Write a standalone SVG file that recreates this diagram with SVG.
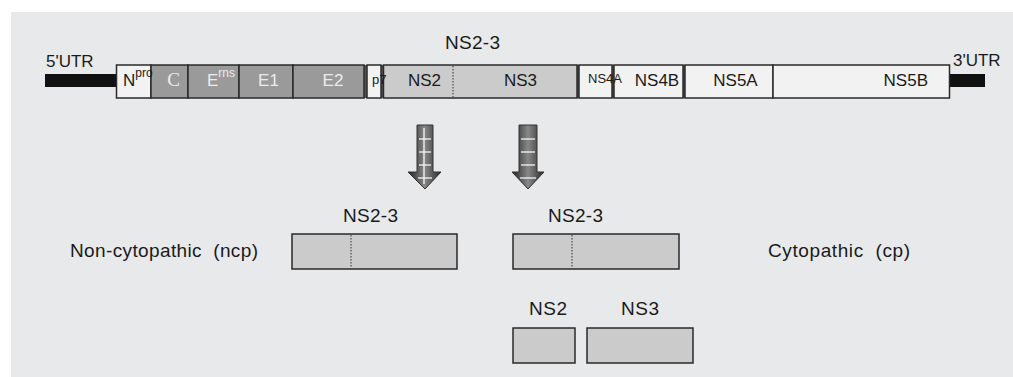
<svg xmlns="http://www.w3.org/2000/svg" width="1013" height="377" viewBox="0 0 1013 377">
<defs>
<style>
text{font-family:"Liberation Sans",Arial,sans-serif;fill:#1a1a1a}
.box{stroke:#2a2a2a;stroke-width:1.5}
.lt{fill:#f2f2f2}
.dk{fill:#9a9a9a}
.md{fill:#cbcbcb}
.dot{stroke:#333;stroke-width:1;stroke-dasharray:1.5 1.5}
.utr{fill:#111}
.arr{fill:url(#ag);stroke:#333;stroke-width:1}
.tick{stroke:#fff;stroke-width:1.2}
.inv{fill:#ececec}
.lbl{font-size:19px}
</style>
<linearGradient id="ag" x1="0" x2="1" y1="0" y2="0">
<stop offset="0" stop-color="#222"/>
<stop offset="0.5" stop-color="#888"/>
<stop offset="1" stop-color="#2a2a2a"/>
</linearGradient>
</defs>
<rect x="11" y="12" width="1002" height="365" fill="#e8e9eb"/>

<g id="genome">
<rect class="utr" x="45" y="74" width="72" height="13"/>
<rect class="utr" x="949" y="74" width="36" height="13"/>
<text x="46" y="67" font-size="17">5'UTR</text>
<text x="953" y="66" font-size="17">3'UTR</text>
<rect x="363" y="65" width="22" height="33" fill="#555"/>
<rect x="575" y="65" width="112" height="33" fill="#555"/>
<rect class="box lt" x="116.5" y="65" width="34.5" height="33"/>
<rect class="box dk" x="151" y="65" width="37" height="33"/>
<rect class="box dk" x="188" y="65" width="51" height="33"/>
<rect class="box dk" x="239" y="65" width="54" height="33"/>
<rect class="box dk" x="293" y="65" width="71" height="33"/>
<rect class="box lt" x="367" y="65" width="14" height="33"/>
<rect class="box md" x="383.5" y="65" width="193.5" height="33"/>
<line class="dot" x1="453" y1="66" x2="453" y2="97"/>
<rect class="box lt" x="579" y="65" width="33" height="33"/>
<rect class="box lt" x="614" y="65" width="69" height="33"/>
<rect class="box lt" x="685" y="65" width="88" height="33"/>
<rect class="box lt" x="773" y="65" width="176.5" height="33"/>
<text x="123" y="86" font-size="17">N<tspan font-size="12" dy="-9">pro</tspan></text>
<text class="inv" x="173.5" y="86" font-size="19" text-anchor="middle" style="font-family:'Liberation Serif',serif">C</text>
<text class="inv" x="207" y="86" font-size="17">E<tspan font-size="12" dy="-9">rns</tspan></text>
<text class="inv" x="268.5" y="86" font-size="17" text-anchor="middle">E1</text>
<text class="inv" x="333" y="86" font-size="17" text-anchor="middle">E2</text>
<text x="372" y="84" font-size="13">p7</text>
<text x="424.5" y="86" font-size="17" text-anchor="middle">NS2</text>
<text x="520.5" y="86" font-size="17" text-anchor="middle">NS3</text>
<text x="588" y="83" font-size="13">NS4A</text>
<text x="657" y="86" font-size="17" text-anchor="middle">NS4B</text>
<text x="735.5" y="86" font-size="17" text-anchor="middle">NS5A</text>
<text x="928" y="86" font-size="17" text-anchor="end">NS5B</text>
<text class="lbl" x="472.5" y="49" text-anchor="middle" textLength="55">NS2-3</text>
</g>

<g id="connectors">
<g id="arrow1">
<path class="arr" d="M417,125 H433 V172 H441 L425,189 L408,172 H417 Z"/>
<line class="tick" x1="419" y1="139" x2="431" y2="139"/>
<line class="tick" x1="419" y1="152" x2="431" y2="152"/>
<line class="tick" x1="419" y1="165" x2="431" y2="165"/>
<line class="tick" x1="418" y1="178" x2="432" y2="178"/>
<line class="tick" x1="424" y1="128" x2="424" y2="184"/>
</g>
<g id="arrow2">
<path class="arr" d="M519,125 H537 V172 H544 L528,189 L512,172 H519 Z"/>
<line class="tick" x1="521" y1="139" x2="535" y2="139"/>
<line class="tick" x1="521" y1="152" x2="535" y2="152"/>
<line class="tick" x1="521" y1="165" x2="535" y2="165"/>
<line class="tick" x1="520" y1="178" x2="536" y2="178"/>
</g>
</g>

<g id="ncp">
<text class="lbl" x="370.5" y="222" text-anchor="middle" textLength="55">NS2-3</text>
<rect class="box md" x="292" y="234" width="165" height="35"/>
<line class="dot" x1="351" y1="235" x2="351" y2="268"/>
<text class="lbl" x="70" y="257" textLength="188" xml:space="preserve">Non-cytopathic  (ncp)</text>
</g>
<g id="cp">
<text class="lbl" x="575.5" y="222" text-anchor="middle" textLength="55">NS2-3</text>
<rect class="box md" x="513" y="234" width="166" height="35"/>
<line class="dot" x1="572" y1="235" x2="572" y2="268"/>
<text class="lbl" x="768" y="257" textLength="142" xml:space="preserve">Cytopathic  (cp)</text>
</g>
<g id="ns2">
<text class="lbl" x="548" y="315" text-anchor="middle" textLength="38">NS2</text>
<rect class="box md" x="513" y="328" width="62" height="35"/>
</g>
<g id="ns3">
<text class="lbl" x="640" y="315" text-anchor="middle" textLength="38">NS3</text>
<rect class="box md" x="587" y="328" width="106" height="35"/>
</g>
</svg>
